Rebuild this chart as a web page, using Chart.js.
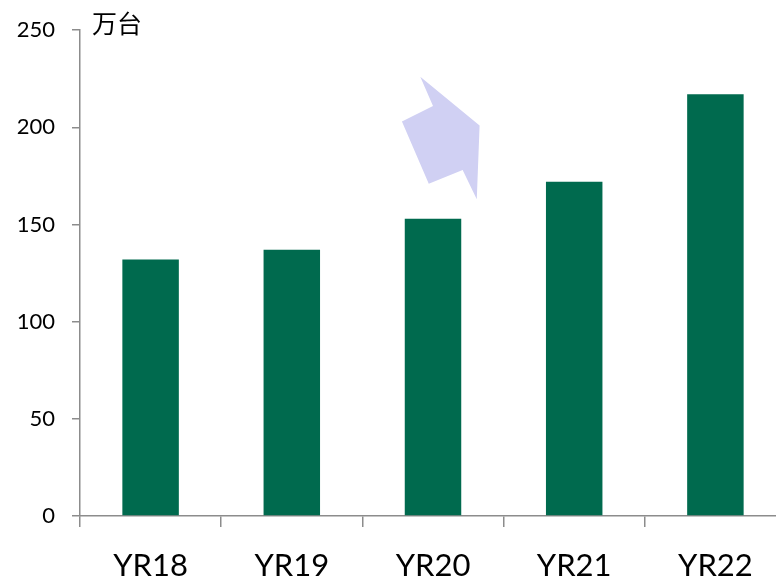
<!DOCTYPE html>
<html>
<head>
<meta charset="utf-8">
<script src="https://cdn.jsdelivr.net/npm/chart.js@4"></script>
<style>
  html, body { margin: 0; padding: 0; background: #fff; overflow: hidden; }
  #wrap { width: 786px; height: 578px; position: relative; }
</style>
</head>
<body>
<div id="wrap"><canvas id="chart"></canvas></div>
<script>
// Data
const YEARS = ['YR18', 'YR19', 'YR20', 'YR21', 'YR22'];
const UNITS = [132, 137, 153, 172, 217];
const Y_TICKS = [0, 50, 100, 150, 200, 250];
const UNIT_LABEL = '万台';

// Decorative arrow outline, in (category index, value) units
const ARROW_X = [1.91, 2.0, 1.78, 1.97, 2.21, 2.31, 2.33];
const ARROW_Y = [226, 211, 203, 171, 178, 163, 201];

const AXIS_GREY = '#8c8c8c';

const decorPlugin = {
  id: 'decor',
  afterDatasetsDraw(chart) {
    const { ctx, scales: { x, y }, chartArea } = chart;
    ctx.save();
    // arrow
    ctx.beginPath();
    ARROW_X.forEach((v, i) => {
      const px = x.getPixelForValue(v);
      const py = y.getPixelForValue(ARROW_Y[i]);
      if (i === 0) ctx.moveTo(px, py); else ctx.lineTo(px, py);
    });
    ctx.closePath();
    ctx.fillStyle = '#d0d0f3';
    ctx.fill();
    // unit label
    ctx.fillStyle = '#000';
    ctx.font = "25px 'Noto Sans CJK SC'";
    ctx.textBaseline = 'alphabetic';
    ctx.textAlign = 'left';
    ctx.fillText(UNIT_LABEL, chartArea.left + 12, 33);
    ctx.restore();
  }
};

new Chart(document.getElementById('chart').getContext('2d'), {
  type: 'bar',
  data: {
    labels: YEARS,
    datasets: [{
      data: UNITS,
      backgroundColor: '#006a4e',
      borderWidth: 0,
      barPercentage: 0.4,
      categoryPercentage: 1.0
    }]
  },
  options: {
    responsive: true,
    maintainAspectRatio: false,
    animation: false,
    layout: { padding: { top: 26, left: 0, right: 0, bottom: 0 } },
    plugins: {
      legend: { display: false },
      tooltip: { enabled: false }
    },
    scales: {
      y: {
        min: 0,
        max: 250,
        afterBuildTicks: (scale) => { scale.ticks = Y_TICKS.map(v => ({ value: v })); },
        afterFit: (scale) => { scale.width = 80; },
        ticks: {
          color: '#000',
          padding: 17,
          font: { family: "Lato, 'Liberation Sans', sans-serif", size: 22 }
        },
        grid: {
          drawOnChartArea: false,
          drawTicks: true,
          tickLength: 8,
          color: AXIS_GREY,
          lineWidth: 1.5
        },
        border: { display: true, color: AXIS_GREY, width: 1.5 }
      },
      x: {
        afterFit: (scale) => { scale.height = 62; },
        ticks: {
          color: '#000',
          padding: 20,
          font: { family: "Lato, 'Liberation Sans', sans-serif", size: 31 }
        },
        grid: {
          drawOnChartArea: false,
          drawTicks: true,
          tickLength: 11,
          color: AXIS_GREY,
          lineWidth: 1.5
        },
        border: { display: true, color: AXIS_GREY, width: 1.5 }
      }
    }
  },
  plugins: [decorPlugin]
});
</script>
</body>
</html>
